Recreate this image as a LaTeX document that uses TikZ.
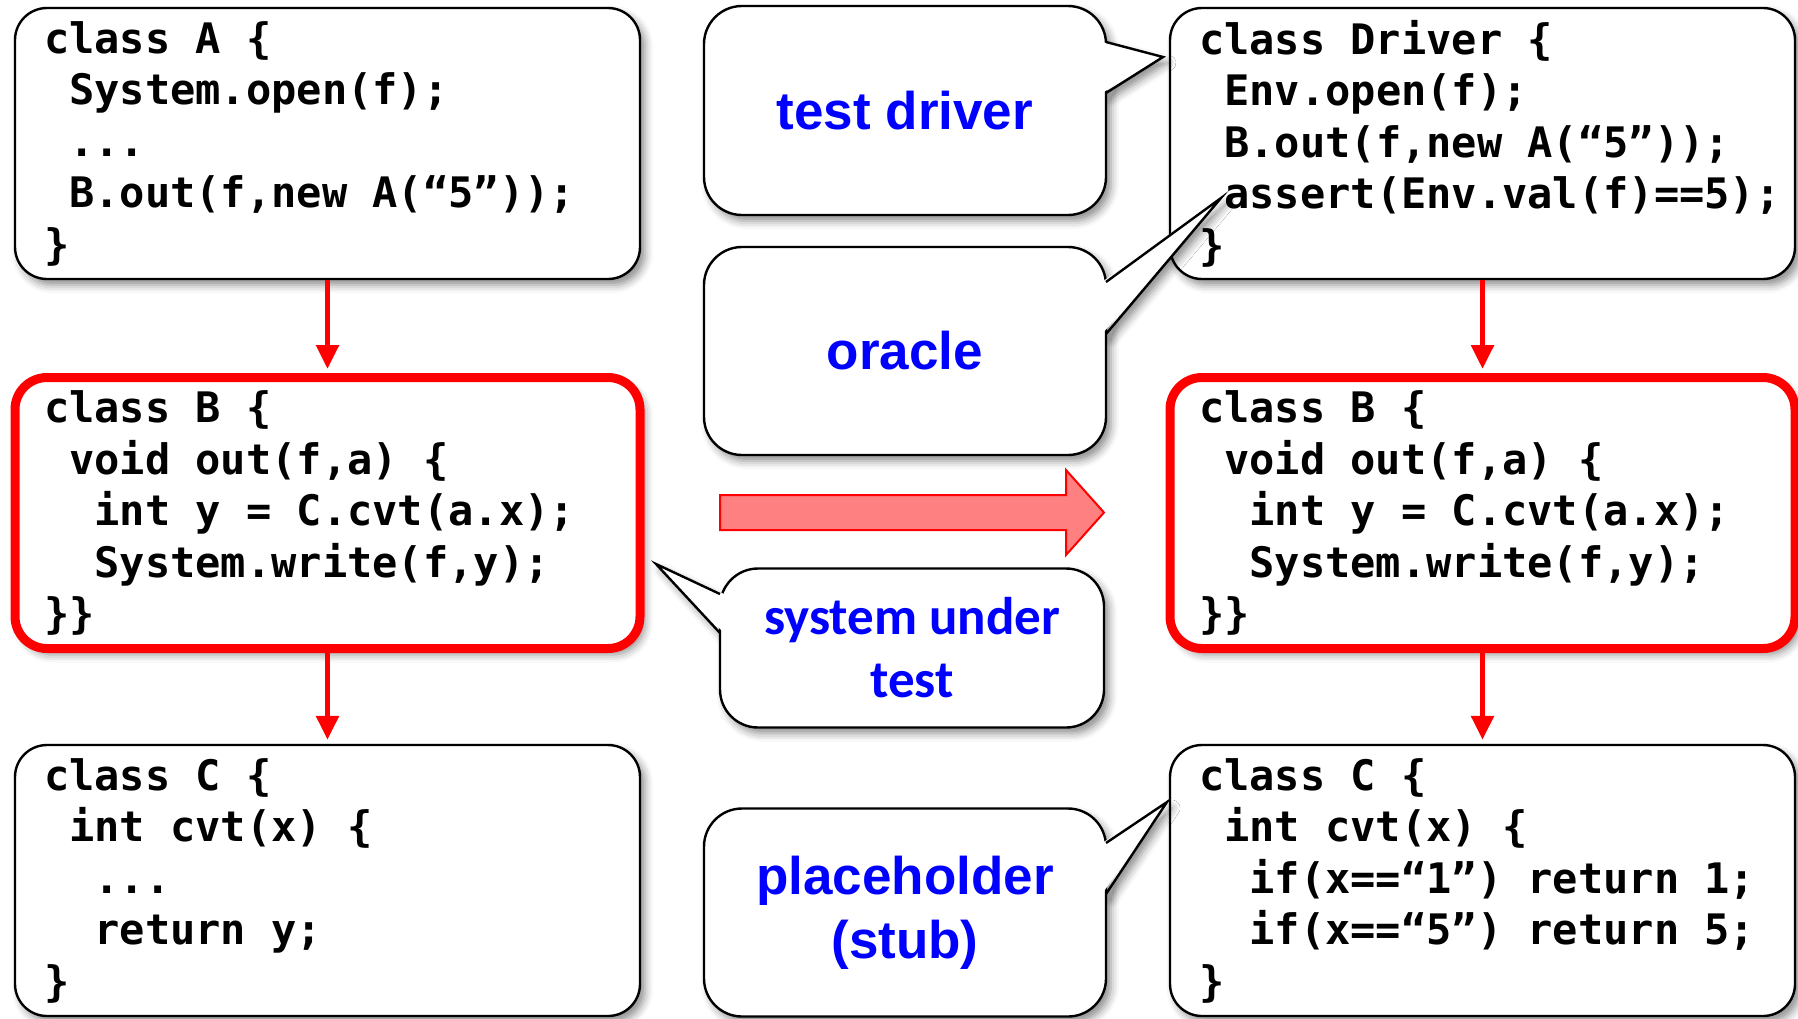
\documentclass[tikz,border=0pt]{standalone}
\usepackage{fontspec}
\setmainfont{Liberation Sans}
\setmonofont{DejaVu Sans Mono}
\newfontfamily\calibrifont{Carlito}
\usetikzlibrary{arrows.meta,shadows.blur}

\begin{document}
\begin{tikzpicture}[x=.5pt,y=-.5pt,
		softshadow/.style={blur shadow={shadow xshift=2.5pt,shadow yshift=-3pt,shadow blur radius=4pt,shadow opacity=45}},
		codebox/.style={draw,line width=1.2pt,rounded corners=16pt,fill=white,softshadow,
			minimum width=312.5pt,minimum height=135.5pt,text width=283.5pt,inner xsep=14.5pt,
			align=left,font=\ttfamily\bfseries\fontsize{21}{25.75}\selectfont,
			execute at begin node={\spaceskip=12.64pt\relax}},
		subject/.style={codebox,draw=red,line width=4.5pt},
		bubble/.style={draw,line width=1.2pt,rounded corners=19pt,fill=white,softshadow,
			minimum width=201pt,minimum height=104pt,align=center,text=blue,
			font=\bfseries\fontsize{26.5}{32}\selectfont},
		tail/.style={line width=1.2pt},
		flow/.style={red,line width=2.8pt,shorten >=2pt,-{Triangle[length=12pt,width=11pt]}},
		bigarrow/.style={draw=red,line width=1pt,fill={rgb,255:red,255;green,128;blue,128}}]
		\useasboundingbox (0,0) rectangle (1798,1018);

		\node[codebox] (a) at (327.5,143.5) {class A \{\\
			~System.open(f);\\
			~...\\
			~B.out(f,new A(“5”));\\
			\}};
		\node[subject] (b) at (327.5,513) {class B \{\\
			~void out(f,a) \{\\
			~~int y = C.cvt(a.x);\\
			~~System.write(f,y);\\
			\}\}};
		\node[codebox] (c) at (327.5,880.5) {class C \{\\
			~int cvt(x) \{\\
			~~...\\
			~~return y;\\
			\}};
		\node[codebox] (drv) at (1482.5,143.5) {class Driver \{\\
			~Env.open(f);\\
			~B.out(f,new A(“5”));\\
			~assert(Env.val(f)==5);\\
			\}};
		\node[subject] (b2) at (1482.5,513) {class B \{\\
			~void out(f,a) \{\\
			~~int y = C.cvt(a.x);\\
			~~System.write(f,y);\\
			\}\}};
		\node[codebox] (c2) at (1482.5,880.5) {class C \{\\
			~int cvt(x) \{\\
			~~if(x==“1”) return 1;\\
			~~if(x==“5”) return 5;\\
			\}};

		\draw[flow] (a) -- (b);
		\draw[flow] (b) -- (c);
		\draw[flow] (drv) -- (b2);
		\draw[flow] (b2) -- (c2);

		\draw[bigarrow] (720,495) -- (1066,495) -- (1066,470) -- (1104,512.5)
			-- (1066,555) -- (1066,530) -- (720,530) -- cycle;

		\coordinate (tdtip) at (1163,57);
		\coordinate (ortip) at (1221,198);
		\coordinate (suttip) at (656,564);
		\coordinate (phtip) at (1167,802);

		\fill[white,softshadow] (1106,42) -- (tdtip) -- (1106,93) -- cycle;
		\fill[white,softshadow] (1106,282) -- (ortip) -- (1106,334) -- cycle;
		\fill[white,softshadow] (720,594) -- (suttip) -- (720,633) -- cycle;
		\fill[white,softshadow] (1106,843) -- (phtip) -- (1106,894) -- cycle;

		\node[bubble,minimum height=104.5pt] (td) at (905,110.5) {test driver};
		\node[bubble] (or) at (905,351) {oracle};
		\node[bubble,minimum width=192pt,minimum height=79.5pt,
			font=\calibrifont\bfseries\fontsize{26.5}{31.5}\selectfont] (sut) at (912,648) {system under\\test};
		\node[bubble] (ph) at (905,912.5) {placeholder\\(stub)};

		\fill[white] (1102,42) -- (tdtip) -- (1102,93) -- cycle;
		\draw[tail] (1106,42) -- (tdtip) -- (1106,93);
		\fill[white] (1102,282) -- (ortip) -- (1102,334) -- cycle;
		\draw[tail] (1106,282) -- (ortip) -- (1106,334);
		\fill[white] (724,594) -- (suttip) -- (724,633) -- cycle;
		\draw[tail] (720,594) -- (suttip) -- (720,633);
		\fill[white] (1102,843) -- (phtip) -- (1102,894) -- cycle;
		\draw[tail] (1106,843) -- (phtip) -- (1106,894);
	\end{tikzpicture}
\end{document}
